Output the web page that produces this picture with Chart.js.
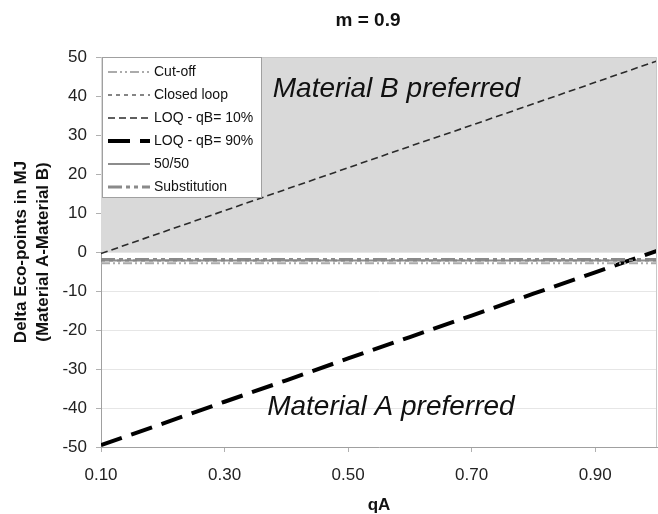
<!DOCTYPE html>
<html>
<head>
<meta charset="utf-8">
<script src="https://cdn.jsdelivr.net/npm/chart.js@4.4.1/dist/chart.umd.min.js"></script>
<style>
    html, body { margin: 0; padding: 0; background: #fff; }
    canvas { display: block; }
</style>
</head>
<body>
<canvas id="chart" width="658" height="514"></canvas>
<script>
// qA values along the x axis
const qA = [0.1, 0.2, 0.3, 0.4, 0.5, 0.6, 0.7, 0.8, 0.9, 1.0];

// series (Delta Eco-points, MJ)
const cutOff       = [-2.9, -2.9, -2.9, -2.9, -2.9, -2.9, -2.9, -2.9, -2.9, -2.9];
const closedLoop   = [-2.2, -2.2, -2.2, -2.2, -2.2, -2.2, -2.2, -2.2, -2.2, -2.2];
const loq10        = [-0.4, 5.1, 10.6, 16.1, 21.6, 27.1, 32.5, 38.0, 43.5, 49.0];
const loq90        = [-49.5, -44.0, -38.4, -32.9, -27.3, -21.8, -16.3, -10.7, -5.2, 0.3];
const fiftyFifty   = [-2.2, -2.2, -2.2, -2.2, -2.2, -2.2, -2.2, -2.2, -2.2, -2.2];
const substitution = [-1.9, -1.9, -1.9, -1.9, -1.9, -1.9, -1.9, -1.9, -1.9, -1.9];

// shaded "Material B preferred" region (0 .. 50)
const bRegionTop = [50, 50, 50, 50, 50, 50, 50, 50, 50, 50];

const xTicks = [0.1, 0.3, 0.5, 0.7, 0.9];

const FONT = "'Liberation Sans', Arial, sans-serif";

const pts = arr => arr.map((v, i) => ({ x: qA[i], y: v }));

// legend box drawn inside the plot, top left
const insideLegend = {
    id: 'insideLegend',
    afterDraw(chart) {
        const { ctx, chartArea } = chart;
        const x0 = chartArea.left + 1, y0 = chartArea.top;
        ctx.save();
        ctx.fillStyle = '#fff';
        ctx.fillRect(x0, y0, 159, 140);
        ctx.strokeStyle = '#a0a0a0';
        ctx.lineWidth = 1;
        ctx.strokeRect(x0 + 0.5, y0 + 0.5, 159, 140);
        let row = 0;
        chart.data.datasets.forEach(ds => {
            if (!ds.label) return;
            const y = y0 + 15 + row * 23;
            ctx.beginPath();
            ctx.setLineDash(ds.borderDash || []);
            ctx.strokeStyle = ds.borderColor;
            ctx.lineWidth = ds.borderWidth;
            ctx.moveTo(x0 + 6, y);
            ctx.lineTo(x0 + 48, y);
            ctx.stroke();
            ctx.setLineDash([]);
            ctx.fillStyle = '#111';
            ctx.font = '14px ' + FONT;
            ctx.textAlign = 'left';
            ctx.textBaseline = 'middle';
            ctx.fillText(ds.label, x0 + 52, y);
            row++;
        });
        ctx.restore();
    }
};

// title, region labels and plot frame
const decorations = {
    id: 'decorations',
    afterDatasetsDraw(chart) {
        const { ctx, chartArea, scales } = chart;
        ctx.save();
        ctx.strokeStyle = '#c8c8c8';
        ctx.lineWidth = 1;
        ctx.beginPath();
        ctx.moveTo(chartArea.left, chartArea.top + 0.5);
        ctx.lineTo(chartArea.right - 0.5, chartArea.top + 0.5);
        ctx.lineTo(chartArea.right - 0.5, chartArea.bottom);
        ctx.stroke();

        ctx.fillStyle = '#111';
        ctx.font = 'italic 28px ' + FONT;
        ctx.textAlign = 'left';
        ctx.textBaseline = 'alphabetic';
        ctx.fillText('Material B preferred', scales.x.getPixelForValue(0.378), scales.y.getPixelForValue(39.7));
        ctx.fillText('Material A preferred', scales.x.getPixelForValue(0.369), scales.y.getPixelForValue(-41.8));

        ctx.font = 'bold 19px ' + FONT;
        ctx.textAlign = 'center';
        ctx.textBaseline = 'middle';
        ctx.fillText('m = 0.9', 368, 21);
        ctx.restore();
    }
};

const line = (label, data, color, width, dash) => ({
    label,
    data: pts(data),
    borderColor: color,
    backgroundColor: color,
    borderWidth: width,
    borderDash: dash,
    pointRadius: 0,
    fill: false,
    order: 1
});

new Chart(document.getElementById('chart'), {
    type: 'line',
    data: {
        datasets: [
            line('Cut-off', cutOff, '#ababab', 2, [9, 3, 2, 3, 2, 3]),
            line('Closed loop', closedLoop, '#858585', 2, [4, 4]),
            line('LOQ - qB= 10%', loq10, '#2a2a2a', 1.6, [7, 4]),
            line('LOQ - qB= 90%', loq90, '#000000', 4, [22, 10]),
            line('50/50', fiftyFifty, '#8c8c8c', 2, []),
            line('Substitution', substitution, '#8a8a8a', 3, [14, 4, 4, 4, 4, 4]),
            {
                label: '',
                data: pts(bRegionTop),
                borderWidth: 0,
                pointRadius: 0,
                backgroundColor: '#d9d9d9',
                fill: 'origin',
                order: 10
            }
        ]
    },
    options: {
        responsive: false,
        animation: false,
        layout: { padding: { top: 57, right: 1, left: 0, bottom: 0 } },
        plugins: {
            legend: { display: false },
            tooltip: { enabled: false }
        },
        scales: {
            x: {
                type: 'linear',
                min: 0.1,
                max: 1.0,
                afterBuildTicks: scale => { scale.ticks = xTicks.map(v => ({ value: v })); },
                afterFit: scale => { scale.height = 67; },
                ticks: {
                    color: '#222',
                    font: { family: FONT, size: 17 },
                    padding: 13,
                    maxRotation: 0,
                    callback: v => v.toFixed(2)
                },
                grid: { drawOnChartArea: false, tickLength: 5, tickColor: '#b0b0b0' },
                border: { color: '#a0a0a0' },
                title: {
                    display: true,
                    text: 'qA',
                    color: '#111',
                    font: { family: FONT, size: 17, weight: 'bold', lineHeight: 1 },
                    padding: { top: 0, bottom: 0 }
                }
            },
            y: {
                min: -50,
                max: 50,
                z: 1,
                afterFit: scale => { scale.width = 101; },
                ticks: {
                    stepSize: 10,
                    color: '#222',
                    font: { family: FONT, size: 17 },
                    padding: 9
                },
                grid: { color: '#e6e6e6', tickLength: 5, tickColor: '#b0b0b0' },
                border: { color: '#a0a0a0' },
                title: {
                    display: true,
                    text: ['Delta Eco-points in MJ', '(Material A-Material B)'],
                    color: '#111',
                    font: { family: FONT, size: 17, weight: 'bold', lineHeight: 1.25 },
                    padding: { top: 11, bottom: 0 }
                }
            }
        }
    },
    plugins: [decorations, insideLegend]
});
</script>
</body>
</html>
